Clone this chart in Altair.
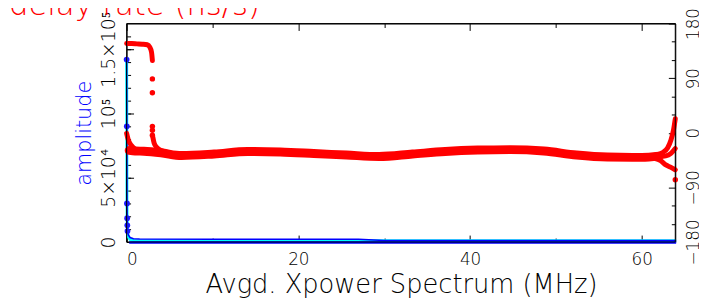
import altair as alt
import pandas as pd

FONT = "DejaVu Sans"
FW = 200
W, H = 555, 221

# ---------------- data ----------------
title_text = "delay rate (ns/s)"
x_title = "Avgd. Xpower Spectrum (MHz)"
y_title = "amplitude"

x_major = [0, 20, 40, 60]
x_minor = [10, 30, 50]
amp_major = [0, 50000, 100000, 150000]
amp_minor = [10000 * i for i in range(0, 17)]
ph_major = [-180, -90, 0, 90, 180]
ph_minor = [-150, -120, -60, -30, 30, 60, 120, 150]

# amplitude (left axis)
amp_freq = [0.0, 0.02, 0.04, 0.06, 0.08, 0.1, 0.2, 0.4, 0.8, 1.5, 10, 20, 27, 30, 40, 50, 60, 64]
amp_blue = [142000, 90000, 30000, 18500, 13000, 8500, 5500, 3500, 2600, 2300, 2200, 2200, 2100, 1200, 1200, 1200, 1200, 1200]
amp_cyan = [142000, 90000, 30000, 18500, 13000, 8500, 4000, 2000, 1200, 1000, 900, 900, 900, 900, 900, 900, 900, 900]
amp_low_freq = [0.3, 10, 20, 30, 40, 50, 60, 64]
amp_low = [-300, -300, -300, -300, -300, -300, -300, -300]
dot_freq = [0.0, 0.02, 0.04, 0.06, 0.08, 0.1]
dot_amp = [142000, 90000, 30000, 18500, 13000, 8500]

# phase (right axis, degrees)
band_freq = [0.3, 1, 2, 4, 6.4, 10.2, 14.1, 17.9, 21.8, 25.6, 29.4, 33.3, 37.1, 40.9, 44.7, 48.6, 52.4, 56, 60, 62]
band_phase = [-29, -30, -30.5, -33, -37.5, -35.0, -30.9, -31.8, -34.2, -36.7, -39.1, -35.0, -30.9, -28.5, -27.7, -30.1, -36.7, -40.0, -40.5, -38.5]
upper_freq = [0.0, 0.6, 1.2, 1.8, 2.4, 2.7, 2.9, 3.0]
upper_phase = [147, 147, 146.5, 146, 145, 141, 133, 119]
start_freq = [0.0, 0.2, 0.5, 1.0, 1.5]
start_phase = [-1, -12, -20, -27, -30]
kink_freq = [3.05, 3.2, 3.5, 4.0, 5.0]
kink_phase = [-7, -17, -24, -29, -33]
hi_freq = [61.5, 62.5, 63.0, 63.4, 63.7, 63.9]
hi_phase = [-37, -32, -25, -12, 5, 23]
mid_freq = [62.0, 62.8, 63.4, 63.9]
mid_phase = [-39, -38, -34, -26]
lo_freq = [61.5, 62.2, 62.8, 63.4, 63.9]
lo_phase = [-42, -46, -53, -57, -61]
spark_freq = [3.0, 3.0, 3.0, 3.0, 3.0, 63.9]
spark_phase = [88.8, 66.0, 10.6, 4.1, -4.1, -77.4]

# ---------------- tables ----------------
amp_df = pd.DataFrame({"f": amp_freq * 2, "a": amp_cyan + amp_blue,
                       "s": ["cyan"] * len(amp_freq) + ["blue"] * len(amp_freq)})
low_df = pd.DataFrame({"f": amp_low_freq, "a": amp_low})
dot_df = pd.DataFrame({"f": dot_freq, "a": dot_amp})

branches = [("band", band_freq, band_phase), ("upper", upper_freq, upper_phase),
            ("start", start_freq, start_phase), ("kink", kink_freq, kink_phase),
            ("hi", hi_freq, hi_phase), ("mid", mid_freq, mid_phase), ("lo", lo_freq, lo_phase)]
rows = []
for name, fs, ps in branches:
    for f, p in zip(fs, ps):
        rows.append({"f": f, "p": p, "s": name})
ph_df = pd.DataFrame(rows)
band_df = ph_df[ph_df.s == "band"]
br_df = ph_df[ph_df.s != "band"]
spark_df = pd.DataFrame({"f": spark_freq, "p": spark_phase})

XDOM = [0, 63.9]
ADOM = [0, 170000]
PDOM = [-180, 180]

common = dict(domain=False, grid=False, tickColor="black", labelColor="black",
              labelFont=FONT, labelFontWeight=FW, titleFont=FONT, titleFontWeight=FW)

def xscale():
    return alt.Scale(domain=XDOM, nice=False, zero=False)

ax_bottom = alt.Axis(orient="bottom", values=x_major, format="d", offset=-7, tickSize=7,
                     labelFontSize=17, labelPadding=10, labelBaseline="top",
                     title=x_title, titleFontSize=26, titleColor="black",
                     titleBaseline="alphabetic", titleY=58, **common)
ax_bottom_minor = alt.Axis(orient="bottom", values=x_minor, offset=-4, tickSize=4,
                           labels=False, title=None, **common)
ax_top = alt.Axis(orient="top", values=x_major, offset=-7, tickSize=7, labels=False, title=None, **common)
ax_top_minor = alt.Axis(orient="top", values=x_minor, offset=-4, tickSize=4, labels=False, title=None, **common)

lab_expr = "datum.value == 0 ? '0' : datum.value == 50000 ? '5×10⁴' : datum.value == 100000 ? '10⁵' : '1.5×10⁵'"
ax_left = alt.Axis(orient="left", values=amp_major, offset=-7, tickSize=7, labelExpr=lab_expr,
                   labelAngle=270, labelAlign="center", labelBaseline="alphabetic",
                   labelFontSize=19, labelPadding=12,
                   title=y_title, titleColor="#0000ff", titleFontSize=21, titleAngle=270,
                   titleAlign="center", titleBaseline="alphabetic", titleX=-44, titleY=110.5, **common)
ax_left_minor = alt.Axis(orient="left", values=amp_minor, offset=-4, tickSize=4, labels=False, title=None, **common)
ax_right = alt.Axis(orient="right", values=ph_major, offset=-7, tickSize=7, format="d",
                    labelExpr="replace(datum.label, '-', '−')",
                    labelAngle=270, labelAlign="center", labelBaseline="top",
                    labelFontSize=17, labelPadding=11, title=None, **common)
ax_right_minor = alt.Axis(orient="right", values=ph_minor, offset=-4, tickSize=4, labels=False, title=None, **common)

cyan = alt.Chart(amp_df[amp_df.s == "cyan"]).mark_line(color="#00ffff", strokeWidth=3).encode(
    x=alt.X("f:Q", scale=xscale(), axis=ax_bottom),
    y=alt.Y("a:Q", scale=alt.Scale(domain=ADOM, nice=False), axis=ax_left),
    order="f:Q")
blue_low = alt.Chart(low_df).mark_line(color="#0000ff", strokeWidth=2.5).encode(
    x=alt.X("f:Q", scale=xscale(), axis=ax_top),
    y=alt.Y("a:Q", scale=alt.Scale(domain=ADOM, nice=False), axis=ax_left_minor))
blue = alt.Chart(amp_df[amp_df.s == "blue"]).mark_line(color="#0000ff", strokeWidth=1.5).encode(
    x=alt.X("f:Q", scale=xscale(), axis=ax_top_minor),
    y=alt.Y("a:Q", scale=alt.Scale(domain=ADOM, nice=False), axis=None),
    order="f:Q")
blue_dots = alt.Chart(dot_df).mark_circle(color="#1a1aff", size=34, opacity=1).encode(
    x=alt.X("f:Q", scale=xscale(), axis=None),
    y=alt.Y("a:Q", scale=alt.Scale(domain=ADOM, nice=False), axis=None))

band = alt.Chart(band_df).mark_line(color="#ff0000", strokeWidth=9, interpolate="monotone",
                                    strokeCap="round").encode(
    x=alt.X("f:Q", scale=xscale(), axis=ax_bottom_minor),
    y=alt.Y("p:Q", scale=alt.Scale(domain=PDOM, nice=False), axis=ax_right),
    order="f:Q")
br = alt.Chart(br_df).mark_line(color="#ff0000", strokeWidth=5, interpolate="monotone",
                                strokeCap="round").encode(
    x=alt.X("f:Q", scale=xscale(), axis=None),
    y=alt.Y("p:Q", scale=alt.Scale(domain=PDOM, nice=False), axis=ax_right_minor),
    detail="s:N", order="f:Q")
sparks = alt.Chart(spark_df).mark_circle(color="#ff0000", size=30, opacity=1).encode(
    x=alt.X("f:Q", scale=xscale(), axis=None),
    y=alt.Y("p:Q", scale=alt.Scale(domain=PDOM, nice=False), axis=None))

frame = alt.Chart(pd.DataFrame({"k": [0]})).mark_rect(
    fillOpacity=0, stroke="black", strokeWidth=1).encode(
    x=alt.value(0), x2=alt.value(W), y=alt.value(0), y2=alt.value(H))

title = alt.Chart(pd.DataFrame({"t": [title_text]})).mark_text(
    color="#ff0000", font=FONT, fontWeight=FW, fontSize=31, align="center",
    baseline="alphabetic").encode(x=alt.value(8), y=alt.value(-9), text="t:N")

chart = alt.layer(cyan, blue_low, blue, band, br, sparks, blue_dots, frame, title).resolve_scale(
    y="independent").resolve_axis(x="independent", y="independent").properties(
    width=W, height=H,
    background="white",
    autosize=alt.AutoSizeParams(type="none"),
    padding={"left": 120, "top": 14, "right": 24, "bottom": 61},
).configure_view(stroke="black", strokeWidth=1)

chart.save("out.html", embed_options={"renderer": "svg", "actions": False})
